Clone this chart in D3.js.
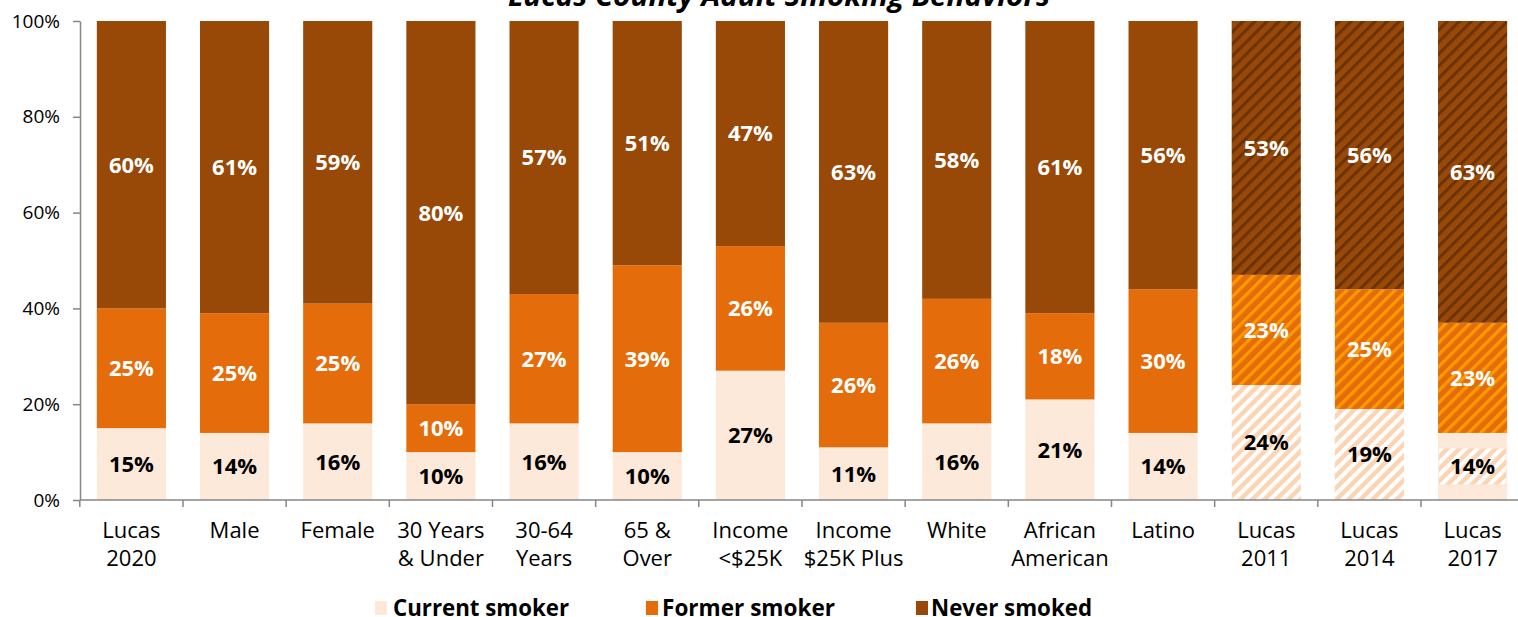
<!DOCTYPE html>
<html>
<head>
<meta charset="utf-8">
<script src="https://cdn.jsdelivr.net/npm/d3@7"></script>
<style>
  html, body { margin: 0; padding: 0; background: #fff; }
  svg { display: block; }
  text { font-family: "Open Sans", "Noto Sans", sans-serif; }
</style>
</head>
<body>
<svg id="chart" width="1518" height="617"></svg>
<script>
// ---- data ----
const categories = [
  ["Lucas", "2020"], ["Male"], ["Female"], ["30 Years", "& Under"], ["30-64", "Years"],
  ["65 &", "Over"], ["Income", "<$25K"], ["Income", "$25K Plus"], ["White"],
  ["African", "American"], ["Latino"], ["Lucas", "2011"], ["Lucas", "2014"], ["Lucas", "2017"]
];
const currentSmoker = [15, 14, 16, 10, 16, 10, 27, 11, 16, 21, 14, 24, 19, 14];
const formerSmoker  = [25, 25, 25, 10, 27, 39, 26, 26, 26, 18, 30, 23, 25, 23];
const neverSmoked   = [60, 61, 59, 80, 57, 51, 47, 63, 58, 61, 56, 53, 56, 63];
// historical (trend) bars are drawn hatched
const historical = [false, false, false, false, false, false, false, false, false, false, false, true, true, true];
// Lucas 2017 current-smoker segment is solid with a hatched label box
const currentLabelBoxOnly = [false, false, false, false, false, false, false, false, false, false, false, false, false, true];
const seriesNames = ["Current smoker", "Former smoker", "Never smoked"];
const yTicks = [0, 20, 40, 60, 80, 100];
const title = "Lucas County Adult Smoking Behaviors";

// ---- style ----
const colors = ["#fde9d9", "#e46c0a", "#984807"];
const hatchBase = ["#fbd4b4", "#e46c0a", "#984807"];
const hatchStripe = ["#ffffff", "#ff9a00", "#6b3204"];
const stripeW = [4, 3.2, 3];
const labelColors = ["#000000", "#ffffff", "#ffffff"];

const svg = d3.select("#chart");
const defs = svg.append("defs");
const P = 8.5;
hatchBase.forEach((b, i) => {
  const p = defs.append("pattern")
    .attr("id", "hatch" + i)
    .attr("patternUnits", "userSpaceOnUse")
    .attr("width", P).attr("height", P)
    .attr("patternTransform", "rotate(45)");
  p.append("rect").attr("width", P).attr("height", P).attr("fill", b);
  p.append("rect").attr("x", 0).attr("width", stripeW[i]).attr("height", P).attr("fill", hatchStripe[i]);
});

const x = d3.scaleBand()
  .domain(d3.range(categories.length))
  .range([79.8, 79.8 + 103.17 * categories.length])
  .paddingInner(0.33).paddingOuter(0.165);
const y = d3.scaleLinear().domain([0, 100]).range([500, 21]);

const rows = categories.map((c, i) => ({
  i, vals: [currentSmoker[i], formerSmoker[i], neverSmoked[i]]
}));

const stack = d3.stack().keys([0, 1, 2]).value((d, k) => d.vals[k]);
const series = stack(rows);

// bars
const g = svg.append("g");
series.forEach((s, k) => {
  g.selectAll(null).data(s).join("rect")
    .attr("x", d => x(d.data.i))
    .attr("width", x.bandwidth())
    .attr("y", d => y(d[1]))
    .attr("height", d => y(d[0]) - y(d[1]))
    .attr("fill", d => (historical[d.data.i] && !(k === 0 && currentLabelBoxOnly[d.data.i])) ? "url(#hatch" + k + ")" : colors[k]);
});

// label boxes (hatched) for special case
series.forEach((s, k) => {
  if (k !== 0) return;
  s.filter(d => currentLabelBoxOnly[d.data.i]).forEach(d => {
    const cy = (y(d[0]) + y(d[1])) / 2;
    g.append("rect")
      .attr("x", x(d.data.i) + 1)
      .attr("width", x.bandwidth() - 2)
      .attr("y", cy - 18).attr("height", 36)
      .attr("fill", "url(#hatch0)");
  });
});

// value labels
series.forEach((s, k) => {
  g.selectAll(null).data(s).join("text")
    .attr("x", d => x(d.data.i) + x.bandwidth() / 2)
    .attr("y", d => (y(d[0]) + y(d[1])) / 2)
    .attr("dy", "0.36em")
    .attr("text-anchor", "middle")
    .attr("font-size", 22)
    .attr("font-weight", 700)
    .attr("fill", labelColors[k])
    .text(d => d.data.vals[k] + "%");
});

// y axis
const yAxis = svg.append("g").attr("transform", "translate(80,0)")
  .call(d3.axisLeft(y).tickValues(yTicks).tickFormat(d => d + "%").tickSize(7).tickSizeOuter(0));
yAxis.select(".domain").attr("stroke", "#868686").attr("stroke-width", 1.5);
yAxis.selectAll(".tick line").attr("stroke", "#868686").attr("stroke-width", 1.5);
yAxis.selectAll(".tick text").attr("font-size", 19).attr("fill", "#000")
  .attr("font-family", "'Open Sans', sans-serif").attr("x", -20);

// x axis
const xAxisG = svg.append("g");
xAxisG.append("line").attr("x1", 80).attr("x2", 1518).attr("y1", 500).attr("y2", 500)
  .attr("stroke", "#868686").attr("stroke-width", 1.5);
const boundaries = d3.range(categories.length + 1).map(i => x(0) - x.step() * x.paddingOuter() + i * x.step());
xAxisG.selectAll(null).data(boundaries).join("line")
  .attr("x1", d => d).attr("x2", d => d).attr("y1", 500).attr("y2", 507)
  .attr("stroke", "#868686").attr("stroke-width", 1.5);
xAxisG.selectAll(null).data(categories).join("text")
  .attr("text-anchor", "middle")
  .attr("font-size", 22)
  .attr("fill", "#000")
  .attr("transform", (d, i) => `translate(${x(i) + x.bandwidth() / 2},538)`)
  .each(function (d) {
    d.forEach((line, j) => {
      d3.select(this).append("tspan").attr("x", 0).attr("y", j * 28).text(line);
    });
  });

// title
svg.append("text").attr("x", 779).attr("y", 6)
  .attr("text-anchor", "middle").attr("font-size", 28)
  .attr("font-weight", 700).attr("font-style", "italic")
  .attr("textLength", 542).attr("lengthAdjust", "spacingAndGlyphs")
  .text(title);

// legend
const legendX = [375, 646, 916];
const legendTextX = [393, 662, 931];
const legendW = [176, 173, 161];
const lg = svg.append("g");
seriesNames.forEach((n, k) => {
  lg.append("rect").attr("x", legendX[k]).attr("y", 601).attr("width", 12).attr("height", 14).attr("fill", colors[k]);
  lg.append("text").attr("x", legendTextX[k]).attr("y", 616)
    .attr("font-size", 24).attr("font-weight", 700)
    .attr("textLength", legendW[k]).attr("lengthAdjust", "spacingAndGlyphs")
    .text(n);
});
</script>
</body>
</html>
